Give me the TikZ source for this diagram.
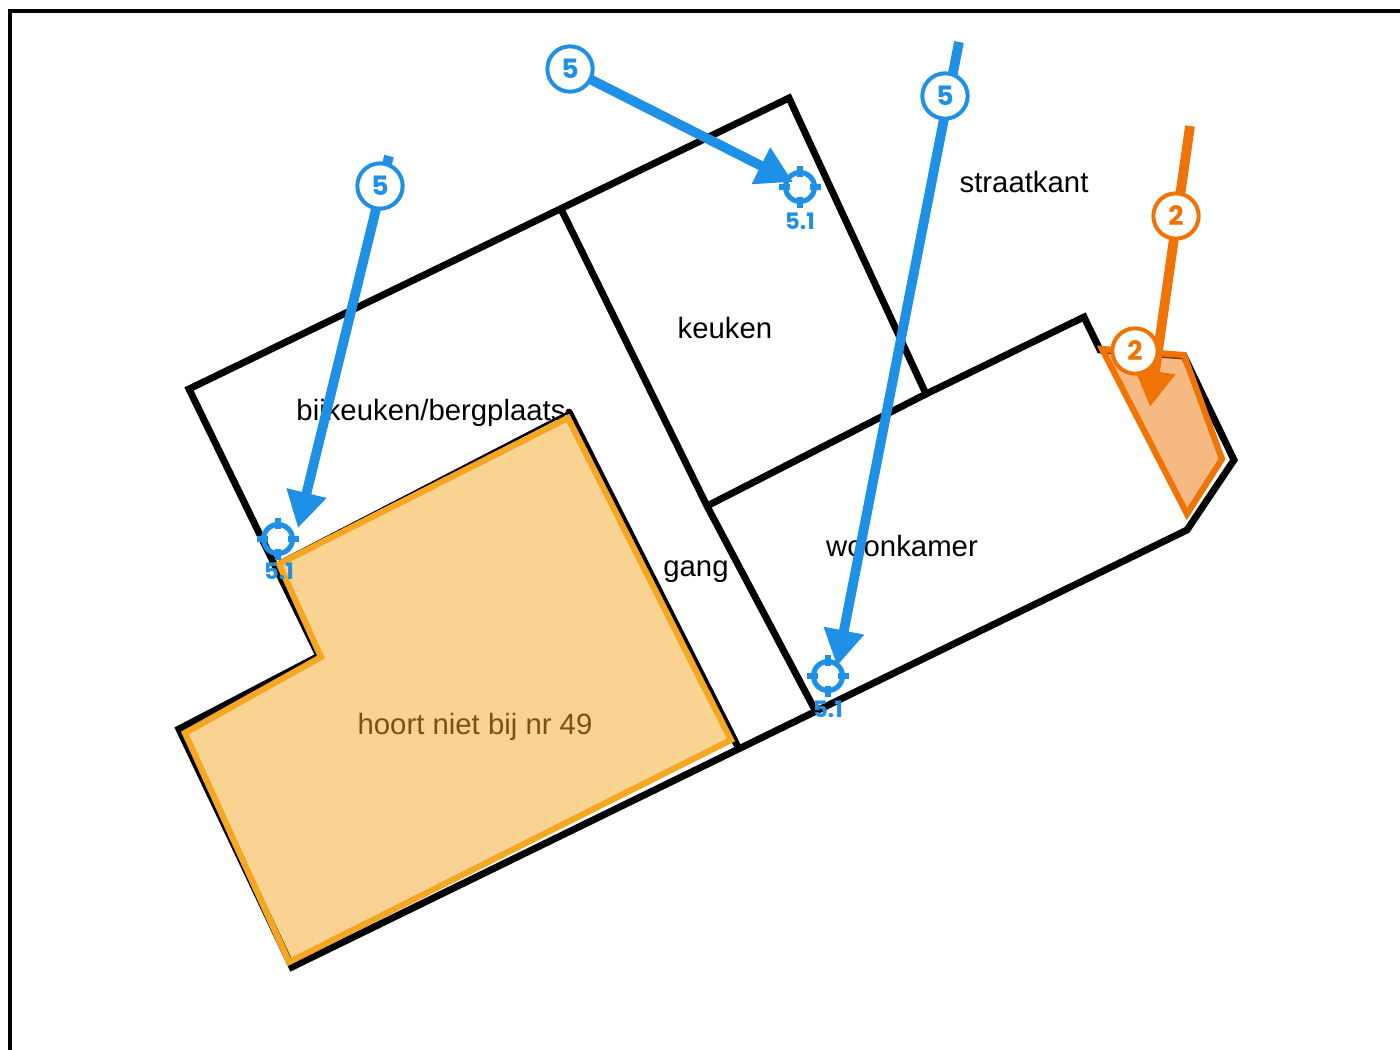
\documentclass[tikz,border=0pt]{standalone}
\usepackage{fontspec}
\setmainfont{Liberation Sans}
\newfontfamily\badgefont{Poppins}
\usetikzlibrary{arrows.meta}

\definecolor{markblue}{RGB}{30,144,230}
\definecolor{markorange}{RGB}{240,115,6}
\definecolor{markyellow}{RGB}{245,166,35}

\tikzset{
  wall/.style={line width=5.2pt},
  roomlabel/.style={inner sep=0.75pt,font=\fontsize{22}{26}\selectfont},
  zone/.style={line width=4.6pt,fill opacity=0.5},
  sightline/.style={line width=7.3pt,-{Triangle[length=27pt,width=29pt]}},
  badge/.style={circle,draw=#1,fill=white,text=#1,line width=3pt,minimum size=34pt,inner sep=0pt,font=\badgefont\bfseries\fontsize{20}{20}\selectfont},
  crosshair/.pic={
    \draw [line width=3.8pt] (0,0) circle (14.5);
    \draw [line width=3.8pt] (-21,0) -- (-10,0) (10,0) -- (21,0) (0,-21) -- (0,-10) (0,10) -- (0,21);
  },
  targetlabel/.style={inner sep=0pt,text=markblue,font=\badgefont\bfseries\fontsize{17}{17}\selectfont},
}

\begin{document}
\begin{tikzpicture}[x=0.75pt,y=0.75pt,yscale=-1,xscale=1]
\useasboundingbox (0,0) rectangle (1400,1050);

%Frame
\draw [line width=2.3pt] (1400,11) -- (10,11) -- (10,1050);

%Outer walls
\draw [wall] (189,389) -- (789,98) -- (926,394) -- (1084,317) -- (1100,350) -- (1184,356) -- (1234,460) -- (1187,530) -- (292,967) -- (179,729) -- (319,656) -- cycle;
%Inner walls
\draw [wall,line cap=round] (562,211) -- (707,506) -- (815,710);
\draw [wall,line cap=round] (707,506) -- (926,394);
\draw [wall,line cap=round] (569,412) -- (737,745);
\draw [line width=2pt] (569,412) -- (279,562);

% Text Node
\node (bijkeuken) [roomlabel] at (431,413) {bijkeuken/bergplaats};
% Text Node
\node (keuken) [roomlabel] at (725,328) {keuken};
% Text Node
\node (gang) [roomlabel] at (696,572) {gang};
% Text Node
\node (woonkamer) [roomlabel] at (902,546) {woonkamer};
% Text Node
\node (straatkant) [roomlabel] at (1024,182) {straatkant};
% Text Node
\node (hoort) [roomlabel] at (475,727) {hoort niet bij nr 49};

%Marked zones
\draw [zone,draw=markyellow,fill=markyellow] (279,564) -- (568,418) -- (731,740) -- (289,962) -- (185,733) -- (321,657) -- cycle;
\draw [zone,draw=markorange,fill=markorange] (1102,349) -- (1184,355) -- (1222,459) -- (1187,514) -- cycle;

%Target markers
\begin{scope}[draw=markblue,color=markblue]
\path (278,539) pic {crosshair};
\path (800,187) pic {crosshair};
\path (828,676) pic {crosshair};
\end{scope}
\node (target a) [targetlabel] at (279,571) {5.1};
\node (target b) [targetlabel] at (800,221) {5.1};
\node (target c) [targetlabel] at (828,709) {5.1};

%Sight lines
\coordinate (start a) at (389,156);
\coordinate (tip a) at (298,528);
\coordinate (start b) at (570,69);
\coordinate (tip b) at (793,182);
\coordinate (start c) at (959,42);
\coordinate (tip c) at (837,666);
\coordinate (start d) at (1190,126);
\coordinate (tip d) at (1150,407);
\draw [sightline,markblue] (start a) -- (tip a);
\draw [sightline,markblue] (start b) -- (tip b);
\draw [sightline,markblue] (start c) -- (tip c);
\draw [sightline,markorange] (start d) -- (tip d);

%Badges
\node (badge a) [badge=markblue] at (380,186) {5};
\node (badge b) [badge=markblue] at (570,69) {5};
\node (badge c) [badge=markblue] at (945,96) {5};
\node (badge d) [badge=markorange] at (1176,216) {2};
\node (badge e) [badge=markorange] at (1135,351) {2};

\end{tikzpicture}
\end{document}
